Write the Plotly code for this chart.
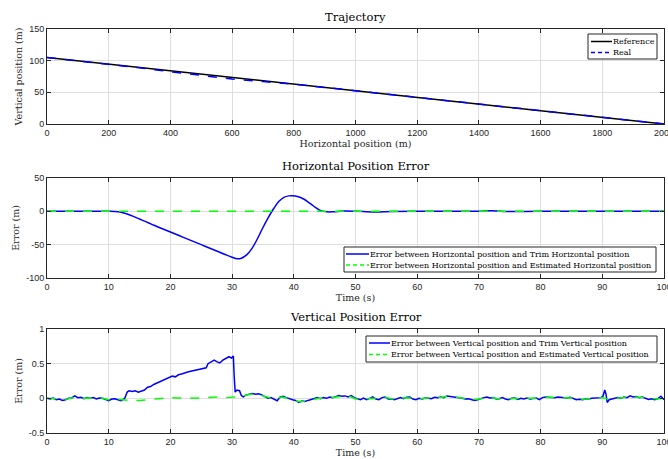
import plotly.graph_objects as go

# ---------------- data ----------------
traj_ref_x = [0, 2000]
traj_ref_y = [105, 0]
traj_real_x = [0, 100, 200, 300, 400, 500, 600, 700, 800, 1000, 1200, 1400, 1600, 1800, 2000]
traj_real_y = [105, 99.8, 94.5, 88.8, 82.6, 76.3, 71.0, 67.0, 63.0, 52.5, 42.0, 31.5, 21.0, 10.5, 0]

hx_t = [0, 5, 10, 11, 12, 13, 14, 15, 16, 17, 18, 19, 20, 21, 22, 23, 24, 25, 26, 27, 28, 29,
        30, 30.8, 31.5, 32.4, 33.2, 34, 34.8, 35.7, 36.8, 37.6, 38.4, 39.2, 39.8, 40.6, 41.6,
        42.4, 43.2, 44.3, 45.4, 46.5, 48, 50, 53, 56, 60, 65, 70, 72, 74, 80, 90, 100]
hx_trim = [0, 0, 0, -0.3, -1.5, -4, -7.5, -11.5, -15.5, -19.5, -23.5, -27.3, -31, -34.8, -38.6,
           -42.4, -46.2, -50, -53.8, -57.6, -61.4, -65.2, -68.8, -71.2, -70.3, -65, -56, -43,
           -28, -12, 5, 15, 21, 23.2, 23.5, 22.3, 18.5, 13.5, 8, 1.5, -0.8, -0.6, 0.4, 0.2, -1,
           -0.3, 0, 0, 0.2, 1, -0.3, 0, 0, 0]
hx_est_t = [0, 100]
hx_est = [0, 0]

vz_t = [0, 0.5, 1, 1.5, 2, 2.5, 3, 3.5, 4, 4.5, 5, 5.5, 6, 6.5, 7, 7.5, 8, 8.5, 9, 9.5, 10,
        10.5, 11, 11.5, 12, 12.3, 12.6, 13, 13.3, 13.8, 14.3, 14.8, 15.3, 15.8, 16.3, 16.8,
        17.3, 17.8, 18.3, 18.8, 19.3, 19.8, 20.3, 20.8, 21.3, 21.8, 22.3, 22.8, 23.3, 23.8,
        24.3, 24.8, 25.3, 25.8, 26.1, 26.6, 27.1, 27.5, 28, 28.5, 29, 29.5, 29.9, 30.2, 30.35,
        30.5, 30.8, 31.2, 31.5, 31.8, 32.3, 32.8, 33.3, 33.8, 34.3, 34.8, 35.3, 35.8, 36.3,
        36.8, 37.3, 37.8, 38.3, 38.8, 39.3, 39.8, 40.3, 40.8, 41.3, 41.8, 42.3, 42.8, 43.3,
        43.8, 44.3, 44.8, 45.3, 45.8, 46.3, 46.8, 47.3, 47.8, 48.3, 48.8, 49.3, 49.8, 50.3,
        50.8, 51.3, 51.8, 52.3, 52.8, 53.3, 53.8, 54.3, 54.8, 55.3, 55.8, 56.3, 56.8, 57.3,
        57.8, 58.3, 58.8, 59.3, 59.8, 60.3, 60.8, 61.3, 61.8, 62.3, 62.8, 63.3, 63.8, 64.3,
        64.8, 65.3, 65.8, 66.3, 66.8, 67.3, 67.8, 68.3, 68.8, 69.3, 69.8, 70.3, 70.8, 71.3,
        71.8, 72.3, 72.8, 73.3, 73.8, 74.3, 74.8, 75.3, 75.8, 76.3, 76.8, 77.3, 77.8, 78.3,
        78.8, 79.3, 79.8, 80.3, 80.8, 81.3, 81.8, 82.3, 82.8, 83.3, 83.8, 84.3, 84.8, 85.3,
        85.8, 86.3, 86.8, 87.3, 87.8, 88.3, 88.8, 89.3, 89.8, 90.1, 90.4, 90.6, 90.8, 91.1,
        91.5, 92, 92.5, 93, 93.5, 94, 94.5, 95, 95.5, 96, 96.5, 97, 97.5, 98, 98.5, 99, 99.5, 100]
vz_trim = [0, -0.01, 0.005, -0.02, -0.01, -0.03, -0.02, 0, 0.005, 0.035, 0.01, 0.015, -0.005,
           0.01, 0.0, 0.01, -0.01, 0.005, 0.0, -0.02, -0.035, -0.01, -0.005, -0.02, -0.035,
           -0.02, 0.0, 0.09, 0.11, 0.1, 0.11, 0.09, 0.11, 0.12, 0.16, 0.17, 0.2, 0.22, 0.25,
           0.27, 0.29, 0.3, 0.32, 0.31, 0.34, 0.35, 0.37, 0.38, 0.39, 0.40, 0.41, 0.42, 0.43,
           0.44, 0.5, 0.52, 0.55, 0.53, 0.51, 0.55, 0.58, 0.6, 0.58, 0.61, 0.3, 0.09, 0.12,
           0.11, 0.04, 0.02, 0.05, 0.06, 0.07, 0.06, 0.065, 0.05, 0.02, 0.0, 0.01, -0.01,
           -0.035, 0.02, 0.03, 0.01, -0.01, -0.02, -0.03, -0.06, -0.04, -0.045, -0.03, -0.02,
           -0.01, 0.01, -0.005, 0.01, 0.0, 0.02, 0.01, 0.03, 0.04, 0.03, 0.035, 0.02, 0.04,
           0.01, -0.01, -0.02, 0.005, -0.02, 0.0, 0.02, -0.01, -0.02, 0.01, 0.02, -0.01,
           -0.005, -0.02, 0.0, 0.01, -0.005, 0.015, 0.02, -0.01, -0.02, 0.0, -0.01, 0.005,
           0.0, -0.005, 0.015, 0.01, 0.02, 0.01, 0.035, 0.03, 0.02, 0.025, 0.01, 0.0, -0.01,
           -0.005, -0.015, -0.03, -0.02, 0.0, 0.01, 0.02, 0.005, 0.01, -0.01, -0.005, 0.01,
           -0.01, -0.02, 0.0, 0.005, -0.015, 0.0, -0.01, 0.005, -0.01, 0.0, 0.005, -0.02,
           0.01, 0.02, 0.015, 0.02, 0.01, 0.02, 0.015, 0.02, 0.005, 0.015, 0.0, -0.02, -0.015,
           -0.02, -0.005, -0.01, 0.0, 0.005, 0.0, 0.01, 0.03, 0.12, 0.06, -0.06, -0.02, -0.01,
           0.0, 0.01, 0.0, 0.02, 0.01, 0.035, 0.02, 0.025, 0.01, 0.02, 0.0, -0.015, -0.005,
           -0.02, -0.005, 0.03, -0.02]

vz_est_t = [0, 1, 2, 3, 4, 5, 6, 7, 8, 9, 10, 11, 12, 13, 13.5, 14, 15, 16, 17, 18, 19, 20,
            21, 22, 23, 24, 25, 26, 27, 28, 29, 30, 31, 32, 33, 34, 35, 36, 37, 38, 39, 40,
            41, 42, 43, 44, 45, 46, 47, 48, 49, 50, 51, 52, 53, 54, 55, 56, 57, 58, 59, 60,
            61, 62, 63, 64, 65, 66, 67, 68, 69, 70, 71, 72, 73, 74, 75, 76, 77, 78, 79, 80,
            81, 82, 83, 84, 85, 86, 87, 88, 89, 90, 91, 92, 93, 94, 95, 96, 97, 98, 99, 100]
vz_est = [0, 0, -0.01, -0.015, 0.005, 0.01, 0.0, 0.005, -0.005, 0.0, -0.02, -0.01, -0.02,
          -0.02, -0.03, -0.035, -0.03, -0.02, -0.01, 0.0, 0.01, 0.01, 0.005, 0.01, 0.005,
          0.0, 0.005, 0.0, 0.01, 0.02, 0.01, 0.015, 0.02, 0.04, 0.06, 0.06, 0.04, 0.01,
          -0.02, 0.02, 0.0, -0.02, -0.05, -0.04, -0.02, 0.0, 0.0, 0.01, 0.03, 0.03, 0.03,
          -0.01, -0.01, 0.0, 0.0, -0.01, 0.01, -0.01, 0.0, 0.01, 0.0, -0.01, 0.0, 0.0, 0.01,
          0.015, 0.03, 0.02, 0.01, -0.01, -0.02, -0.01, 0.01, 0.01, -0.005, 0.0, -0.01, 0.0,
          -0.01, 0.0, -0.005, 0.0, 0.015, 0.015, 0.015, 0.015, 0.005, -0.015, -0.015, -0.005,
          0.0, 0.01, -0.01, 0.0, 0.005, 0.015, 0.02, 0.015, 0.005, -0.01, -0.01, 0.0]

traj_xticks = [0, 200, 400, 600, 800, 1000, 1200, 1400, 1600, 1800, 2000]
traj_yticks = [0, 50, 100, 150]
time_ticks = [0, 10, 20, 30, 40, 50, 60, 70, 80, 90, 100]
hx_yticks = [-100, -50, 0, 50]
vz_yticks = [-0.5, 0, 0.5, 1]

# ---------------- figure ----------------
W, H = 668, 459
ML, MR, MT, MB = 47, 4, 29, 26
PW = W - ML - MR
PH = H - MT - MB


def px(xp):
    return (xp - ML) / PW


def py(yp):
    return 1 - (yp - MT) / PH


def ydom(top_px, bot_px):
    return [py(bot_px), py(top_px)]


SERIF = "DejaVu Serif, Liberation Serif, serif"
SANS = "Liberation Sans, Arial, sans-serif"
AX = "#262626"
GRID = "#dedede"

BLUE = "#0000ff"
GREEN = "#00ff00"

series = [
    dict(x=traj_ref_x, y=traj_ref_y, name="Reference", color="black", dash="solid", ax=("x", "y")),
    dict(x=traj_real_x, y=traj_real_y, name="Real", color=BLUE, dash="dash", ax=("x", "y")),
    dict(x=hx_t, y=hx_trim, name="Error between Horizontal position and Trim Horizontal position",
         color=BLUE, dash="solid", ax=("x2", "y2"), shape="spline"),
    dict(x=hx_est_t, y=hx_est,
         name="Error between Horizontal position and Estimated Horizontal position",
         color=GREEN, dash="dash", ax=("x2", "y2")),
    dict(x=vz_t, y=vz_trim, name="Error between Vertical position and Trim Vertical position",
         color=BLUE, dash="solid", ax=("x3", "y3")),
    dict(x=vz_est_t, y=vz_est,
         name="Error between Vertical position and Estimated Vertical position",
         color=GREEN, dash="dash", ax=("x3", "y3")),
]

fig = go.Figure()
for s in series:
    fig.add_trace(go.Scatter(x=s["x"], y=s["y"], mode="lines", name=s["name"],
                             line=dict(color=s["color"], width=1.5, dash=s["dash"]),
                             line_shape=s.get("shape", "linear"),
                             xaxis=s["ax"][0], yaxis=s["ax"][1], showlegend=False))


def xax(rng, ticks, anchor, title):
    return dict(range=rng, tickvals=ticks, ticktext=[str(t) for t in ticks], anchor=anchor,
                showline=True, linecolor=AX, linewidth=1, mirror="ticks", ticks="inside",
                ticklen=4, tickcolor=AX, showgrid=True, gridcolor=GRID, zeroline=False,
                ticklabeloverflow="allow", automargin=False,
                tickfont=dict(family=SANS, size=9, color=AX),
                title=dict(text=title, font=dict(family=SERIF, size=9.5, color=AX), standoff=0))


def yax(rng, ticks, dom, anchor, title):
    return dict(range=rng, tickvals=ticks, ticktext=[("%g" % t) for t in ticks], domain=dom,
                anchor=anchor, showline=True, linecolor=AX, linewidth=1, mirror="ticks",
                ticks="inside", ticklen=4, tickcolor=AX, showgrid=True, gridcolor=GRID,
                zeroline=False, ticklabeloverflow="allow", automargin=False,
                tickfont=dict(family=SANS, size=9, color=AX),
                title=dict(text=title, font=dict(family=SERIF, size=9.5, color=AX), standoff=4))


d1 = ydom(29, 124)
d2 = ydom(178, 278)
d3 = ydom(329, 433)

fig.update_layout(
    width=W, height=H,
    margin=dict(l=ML, r=MR, t=MT, b=MB, autoexpand=False),
    paper_bgcolor="white", plot_bgcolor="white",
    showlegend=False,
    xaxis=xax([0, 2000], traj_xticks, "y", "Horizontal position (m)"),
    yaxis=yax([0, 150], traj_yticks, d1, "x", "Vertical position (m)"),
    xaxis2=xax([0, 100], time_ticks, "y2", "Time (s)"),
    yaxis2=yax([-100, 50], hx_yticks, d2, "x2", "Error (m)"),
    xaxis3=xax([0, 100], time_ticks, "y3", "Time (s)"),
    yaxis3=yax([-0.5, 1], vz_yticks, d3, "x3", "Error (m)"),
)

# custom MATLAB-style legends (box px: left, top, right, bottom; line start/end px; row ys)
legends = [
    dict(box=(588, 34, 657, 59), line=(591, 612), rows=(41.5, 52.5), items=series[0:2]),
    dict(box=(344, 247, 656, 272), line=(346, 369), rows=(254, 265), items=series[2:4]),
    dict(box=(366, 336, 657, 362), line=(369, 390), rows=(343, 354.5), items=series[4:6]),
]
shapes = []
for lg in legends:
    l, t, r, b = lg["box"]
    shapes.append(dict(type="rect", xref="paper", yref="paper", x0=px(l), x1=px(r),
                       y0=py(b), y1=py(t), fillcolor="white",
                       line=dict(color=AX, width=1), layer="above"))
    for s, ry in zip(lg["items"], lg["rows"]):
        shapes.append(dict(type="line", xref="paper", yref="paper", x0=px(lg["line"][0]),
                           x1=px(lg["line"][1]), y0=py(ry), y1=py(ry), layer="above",
                           line=dict(color=s["color"], width=1.5,
                                     dash="solid" if s["dash"] == "solid" else "4px,3px")))
        fig.add_annotation(text=s["name"], x=px(lg["line"][1]), y=py(ry), xref="paper",
                           yref="paper", xanchor="left", yanchor="middle", showarrow=False,
                           borderpad=0, font=dict(family=SERIF, size=8, color="black"))
fig.update_layout(shapes=shapes)

titles = [("Trajectory", d1[1]), ("Horizontal Position Error", d2[1]),
          ("Vertical Position Error", d3[1])]
for txt, ytop in titles:
    fig.add_annotation(text=txt, x=0.5, y=ytop, xref="paper", yref="paper",
                       xanchor="center", yanchor="bottom", yshift=3, showarrow=False,
                       font=dict(family=SERIF, size=11.5, color="black"))

fig.write_html("out.html")
